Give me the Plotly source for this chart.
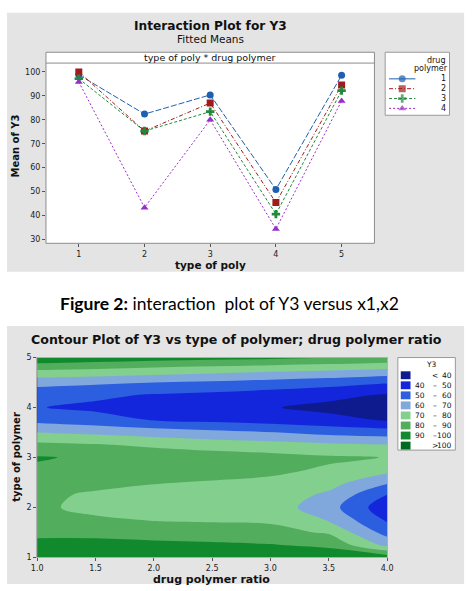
import plotly.graph_objects as go

W, H = 475, 591

# ---------------- Interaction plot data (fitted means) ----------------
type_of_poly = [1, 2, 3, 4, 5]
drug_polymer_levels = ["1", "2", "3", "4"]
y3_dp1 = [98.8, 82.4, 90.4, 50.9, 98.6]
y3_dp2 = [100.0, 75.3, 87.0, 45.4, 94.5]
y3_dp3 = [97.2, 75.3, 83.4, 40.6, 92.2]
y3_dp4 = [95.8, 43.3, 80.0, 34.4, 87.9]
series_values = [y3_dp1, y3_dp2, y3_dp3, y3_dp4]
y_ticks_top = [30, 40, 50, 60, 70, 80, 90, 100]

# ---------------- Contour plot data (Y3) ----------------
drug_polymer_ratio = [1.0, 1.5, 2.0, 2.5, 3.0, 3.5, 4.0]
type_of_polymer = [1.0, 1.25, 1.5, 1.75, 2.0, 2.25, 2.5, 2.75, 3.0,
                   3.25, 3.5, 3.75, 4.0, 4.25, 4.5, 4.75, 5.0]
y3_t100 = [98.5, 99.5, 99.8, 99.0, 97.2, 96.5, 95.8]
y3_t125 = [93.0, 93.1, 92.4, 91.5, 90.5, 87.9, 67.2]
y3_t150 = [87.5, 87.3, 85.8, 84.9, 83.4, 78.8, 56.1]
y3_t175 = [84.0, 82.0, 79.5, 78.9, 78.4, 69.3, 48.7]
y3_t200 = [82.4, 76.5, 75.3, 74.5, 75.3, 64.0, 43.3]
y3_t225 = [82.3, 78.5, 77.0, 76.0, 76.0, 68.0, 49.7]
y3_t250 = [84.5, 83.0, 80.5, 79.3, 78.5, 74.0, 61.4]
y3_t275 = [88.5, 86.5, 85.0, 83.5, 81.5, 79.0, 73.3]
y3_t300 = [90.8, 88.5, 87.0, 85.0, 83.4, 81.2, 79.8]
y3_t325 = [82.6, 81.0, 78.1, 75.7, 74.0, 72.2, 70.7]
y3_t350 = [70.0, 67.8, 65.3, 62.9, 60.6, 56.9, 55.0]
y3_t375 = [57.0, 53.9, 49.5, 47.5, 45.5, 43.0, 39.2]
y3_t400 = [50.4, 48.0, 45.4, 43.0, 40.6, 37.5, 34.4]
y3_t425 = [54.0, 51.9, 49.2, 47.5, 45.5, 42.8, 39.0]
y3_t450 = [63.5, 61.8, 60.0, 58.5, 56.3, 54.1, 50.7]
y3_t475 = [80.0, 78.5, 76.4, 74.3, 72.3, 70.7, 68.6]
y3_t500 = [98.6, 96.5, 94.5, 93.3, 92.2, 90.2, 87.9]
y3_grid = [y3_t100, y3_t125, y3_t150, y3_t175, y3_t200, y3_t225, y3_t250,
           y3_t275, y3_t300, y3_t325, y3_t350, y3_t375, y3_t400, y3_t425,
           y3_t450, y3_t475, y3_t500]
band_labels = [("", "<", "40"), ("40", "–", "50"), ("50", "–", "60"), ("60", "–", "70"),
               ("70", "–", "80"), ("80", "–", "90"), ("90", "–", "100"), ("", ">", "100")]
ratio_ticks = [1.0, 1.5, 2.0, 2.5, 3.0, 3.5, 4.0]
type_ticks = [1, 2, 3, 4, 5]

# ---------------- styles ----------------
FONT = "DejaVu Sans"
PANEL = "#e4e4e4"
series_colors = ["#1f5fb0", "#a01c1c", "#1e8a3a", "#9a2fc8"]
series_symbols = ["circle", "square", "cross", "triangle-up"]
series_dash = ["6px,2px", "4px,2px,1px,2px", "3px,2px", "2px,2px"]
band_colors = ["#0d1b8e", "#1426dc", "#2c5ee0", "#80a8dc",
               "#82cf8e", "#52ad5d", "#118a2e", "#006b22"]


def px(x):
    return x / W


def py(y):
    return 1 - y / H


fig = go.Figure()

# interaction lines
for name, vals, col, sym, dash in zip(drug_polymer_levels, series_values,
                                      series_colors, series_symbols, series_dash):
    fig.add_trace(go.Scatter(
        x=type_of_poly, y=vals, mode="lines+markers", name=name,
        line=dict(color=col, width=1, dash=dash),
        marker=dict(color=col, symbol=sym, size=7, line=dict(width=0)),
        xaxis="x", yaxis="y", showlegend=False))

# contour
n_b = len(band_colors)
fig.add_trace(go.Contour(
    x=drug_polymer_ratio, y=type_of_polymer, z=y3_grid,
    xaxis="x2", yaxis="y2",
    autocontour=False,
    contours=dict(start=40, end=100, size=10, coloring="fill", showlines=False),
    colorscale=[[i / (n_b - 1), c] for i, c in enumerate(band_colors)],
    line=dict(width=0, smoothing=1.0),
    showscale=False, hoverinfo="skip"))

# legend symbols of the interaction plot (on an auxiliary pixel axis)
LEG_X0, LEG_X1, LEG_Y0, LEG_Y1 = 389, 455, 49, 113
for i, (name, col, sym, dash) in enumerate(zip(drug_polymer_levels, series_colors,
                                               series_symbols, series_dash)):
    yy = 76 + i * 10
    fig.add_trace(go.Scatter(
        x=[393, 406.5, 420], y=[yy, yy, yy], mode="lines+markers",
        line=dict(color=col, width=1, dash="solid" if i == 0 else dash),
        marker=dict(color=col, symbol=sym, size=[0, 7, 0], line=dict(width=0)),
        xaxis="x3", yaxis="y3", showlegend=False, hoverinfo="skip"))

ax_common = dict(showgrid=False, zeroline=False, ticks="outside", ticklen=3,
                 tickcolor="#555", tickfont=dict(family=FONT, size=8, color="#222"),
                 showline=False)

fig.update_layout(
    width=W, height=H, autosize=False,
    margin=dict(l=0, r=0, t=0, b=0),
    paper_bgcolor="white", plot_bgcolor="white",
    xaxis=dict(domain=[px(41), px(378)], range=[0.5, 5.5], anchor="y",
               tickvals=type_of_poly, **ax_common),
    yaxis=dict(domain=[py(243), py(60)], range=[28.4, 103.7], anchor="x",
               tickvals=y_ticks_top, **ax_common),
    xaxis2=dict(domain=[px(32), px(391)], range=[1, 4], anchor="y2",
                tickvals=ratio_ticks, tickformat=".1f", showline=True, mirror=True,
                linecolor="#b0b0b0", **{k: v for k, v in ax_common.items() if k != "showline"}),
    yaxis2=dict(domain=[py(562), py(359)], range=[1, 5], anchor="x2",
                tickvals=type_ticks, showline=True, mirror=True, linecolor="#b0b0b0",
                **{k: v for k, v in ax_common.items() if k != "showline"}),
    xaxis3=dict(domain=[px(LEG_X0), px(LEG_X1)], range=[LEG_X0, LEG_X1], anchor="y3",
                visible=False),
    yaxis3=dict(domain=[py(LEG_Y1), py(LEG_Y0)], range=[LEG_Y1, LEG_Y0], anchor="x3",
                visible=False),
)

shapes = []
# grey panels
shapes.append(dict(type="rect", xref="paper", yref="paper", x0=px(1), x1=px(470),
                   y0=py(272), y1=py(9), fillcolor=PANEL, line=dict(width=0), layer="below"))
shapes.append(dict(type="rect", xref="paper", yref="paper", x0=px(1), x1=px(470),
                   y0=py(589), y1=py(327), fillcolor=PANEL, line=dict(width=0), layer="below"))
# white box of the interaction plot with header strip
shapes.append(dict(type="rect", xref="paper", yref="paper", x0=px(41), x1=px(378),
                   y0=py(243), y1=py(49), fillcolor="white",
                   line=dict(color="#8c8c8c", width=1), layer="below"))
shapes.append(dict(type="line", xref="paper", yref="paper", x0=px(41), x1=px(378),
                   y0=py(60), y1=py(60), line=dict(color="#8c8c8c", width=1)))
# legend boxes
shapes.append(dict(type="rect", xref="paper", yref="paper", x0=px(LEG_X0), x1=px(LEG_X1),
                   y0=py(LEG_Y1), y1=py(LEG_Y0), fillcolor="white",
                   line=dict(color="#999", width=1), layer="below"))
shapes.append(dict(type="rect", xref="paper", yref="paper", x0=px(402), x1=px(461),
                   y0=py(453), y1=py(359), fillcolor="white",
                   line=dict(color="#999", width=1), layer="below"))
for i, c in enumerate(band_colors):
    top = 373 + i * 10.2
    shapes.append(dict(type="rect", xref="paper", yref="paper", x0=px(405), x1=px(415),
                       y0=py(top + 8), y1=py(top), fillcolor=c, line=dict(width=0)))
fig.update_layout(shapes=shapes)


def text(x, y, s, size, bold=False, xanchor="center", angle=0, family=FONT, color="#111"):
    fig.add_annotation(x=px(x), y=py(y), xref="paper", yref="paper",
                       text=("<b>%s</b>" % s) if bold else s, showarrow=False,
                       font=dict(family=family, size=size, color=color),
                       xanchor=xanchor, yanchor="middle", textangle=angle)


# interaction plot texts
text(209.5, 22, "Interaction Plot for Y3", 12.2, bold=True)
text(209.5, 36, "Fitted Means", 10.5)
text(209.5, 54.5, "type of poly * drug polymer", 9.5)
text(210, 265, "type of poly", 10.5, bold=True)
text(10, 144, "Mean of Y3", 10, bold=True, angle=-90)
text(453, 57, "drug", 8, xanchor="right")
text(455, 66, "polymer", 8, xanchor="right")
for i, name in enumerate(drug_polymer_levels):
    text(453, 76 + i * 10, name, 8, xanchor="right")

# caption
text(229, 304, "<b>Figure 2:</b> interaction&nbsp; plot of Y3 versus x1,x2", 17.5,
     family="Lato", color="#000")

# contour texts
text(236, 341, "Contour Plot of Y3 vs type of polymer; drug polymer ratio", 12.6, bold=True)
text(211, 584, "drug polymer ratio", 11, bold=True)
text(11, 460, "type of polymer", 10, bold=True, angle=-90)
text(437, 366, "Y3", 7.5)
for i, (lo, sep, hi) in enumerate(band_labels):
    yy = 377 + i * 10.2
    if lo:
        text(432, yy, lo, 7.5, xanchor="right")
    text(440, yy, sep, 7.5)
    text(460, yy, hi, 7.5, xanchor="right")

fig.write_html("out.html")
